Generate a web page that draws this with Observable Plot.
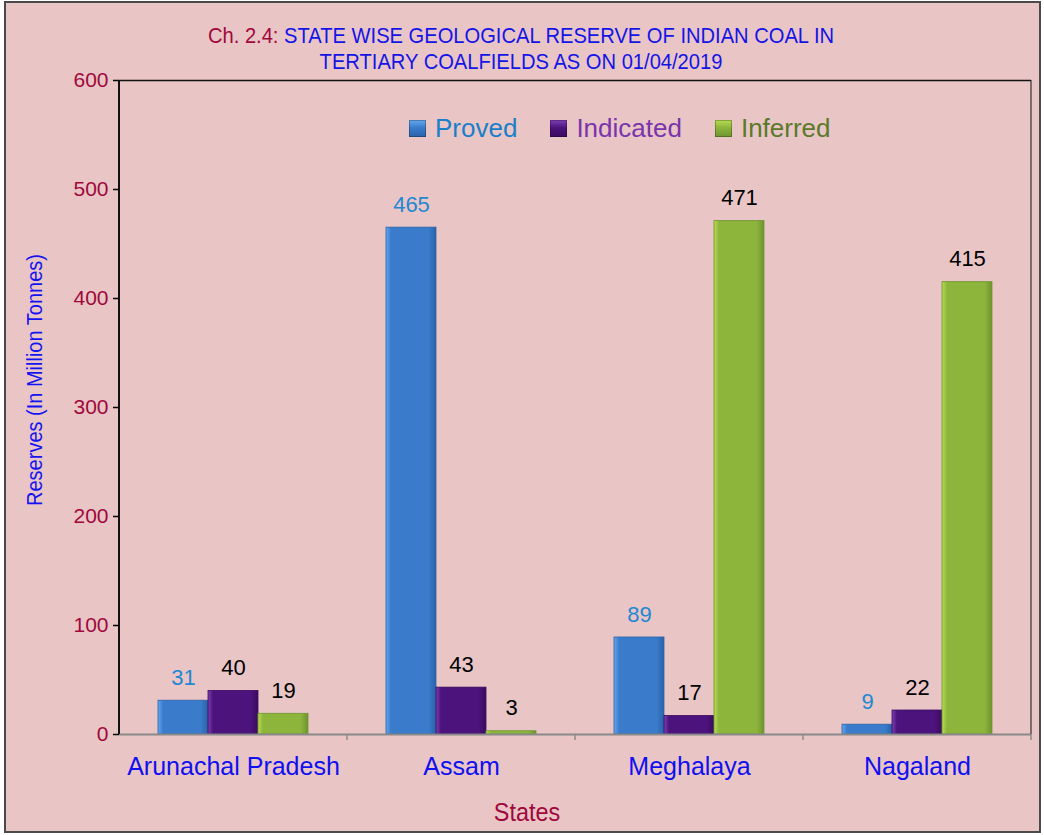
<!DOCTYPE html>
<html>
<head>
<meta charset="utf-8">
<script src="https://cdn.jsdelivr.net/npm/d3@7"></script>
<script src="https://cdn.jsdelivr.net/npm/@observablehq/plot@0.6"></script>
<style>
  html, body { margin: 0; padding: 0; background: #fff; }
  #wrap { position: relative; width: 1044px; height: 835px; overflow: hidden; font-family: "Liberation Sans", Arial, sans-serif; }
  #box { position: absolute; left: 4px; top: 1px; width: 1033px; height: 828px; border: 2px solid #4a4a4a; background: #e9c5c6; }
  #chart { position: absolute; left: 0; top: 0; }
  #title { position: absolute; left: 0; top: 23px; width: 1042px; text-align: center; font-size: 22px; line-height: 26px; color: #1414e6; transform: scaleX(0.915); transform-origin: 521px 0; }
  #title .pre { color: #a0083c; }
  #legend { position: absolute; left: 409px; top: 113px; display: flex; align-items: center; gap: 33px; font-size: 26px; }
  #legend .item { display: flex; align-items: center; gap: 9px; }
  #legend .sw { width: 17px; height: 17px; display: inline-block; box-shadow: inset 0 0 0 1px rgba(0,0,0,0.25); }
  #ylabel { position: absolute; left: 35px; top: 380px; transform: translate(-50%, -50%) rotate(-90deg) scaleX(0.93); white-space: nowrap; font-size: 21.5px; color: #1414f0; }
  #xlabel { position: absolute; left: 527px; top: 812px; transform: translate(-50%, -50%) scaleX(0.9); font-size: 26px; color: #a0083c; }
</style>
</head>
<body>
<div id="wrap">
  <div id="box"></div>
  <div id="chart"></div>
  <div id="title"><span class="pre">Ch. 2.4:</span> STATE WISE GEOLOGICAL RESERVE OF INDIAN COAL IN<br>TERTIARY COALFIELDS AS ON 01/04/2019</div>
  <div id="legend"></div>
  <div id="ylabel">Reserves (In Million Tonnes)</div>
  <div id="xlabel">States</div>
</div>
<script>
const states = ["Arunachal Pradesh", "Assam", "Meghalaya", "Nagaland"];
const seriesNames = ["Proved", "Indicated", "Inferred"];
const proved = [31, 465, 89, 9];
const indicated = [40, 43, 17, 22];
const inferred = [19, 3, 471, 415];
const yTicks = [0, 100, 200, 300, 400, 500, 600];

const seriesColors = {
  Proved:    {edge: "#66a8ee", mid: "#3a7ccb", dark: "#2a62a8", text: "#1a7fc8", label: "#1f88d2"},
  Indicated: {edge: "#7e40b4", mid: "#4c137c", dark: "#3a0c60", text: "#7a34ac", label: "#000000"},
  Inferred:  {edge: "#b8dc50", mid: "#8db53c", dark: "#6e9430", text: "#5a7a2a", label: "#000000"}
};

const valuesBySeries = {Proved: proved, Indicated: indicated, Inferred: inferred};
const data = [];
states.forEach((s, i) => {
  seriesNames.forEach(k => data.push({state: s, series: k, value: valuesBySeries[k][i]}));
});

const gradId = k => "grad-" + k;

const plot = Plot.plot({
  width: 1044,
  height: 835,
  marginTop: 80,
  marginLeft: 119,
  marginRight: 13,
  marginBottom: 101,
  style: {background: "transparent", overflow: "visible"},
  fx: {domain: states, padding: 0, label: null, tickSize: 0, tickPadding: 23},
  x: {domain: seriesNames, paddingInner: 0, paddingOuter: 0.74, axis: null},
  y: {domain: [0, 600], ticks: yTicks, tickSize: 6, tickPadding: 5, label: null},
  color: {domain: seriesNames, range: seriesNames.map(k => `url(#${gradId(k)})`)},
  marks: [
    Plot.ruleY([600], {stroke: "#111", strokeWidth: 1.5}),
    Plot.barY(data, {fx: "state", x: "series", y: "value", fill: "series", stroke: d => seriesColors[d.series].dark, strokeWidth: 0.8}),
    Plot.ruleY([0], {stroke: "#8a8a8a", strokeWidth: 2}),
    Plot.text(data, {fx: "state", x: "series", y: "value", text: d => String(d.value), dy: -23,
      fill: d => seriesColors[d.series].label, fontSize: 22,
      fontFamily: "'Liberation Sans', Arial, sans-serif"})
  ]
});

// gradients
const svg = d3.select(plot);
const defs = svg.insert("defs", ":first-child");
seriesNames.forEach(k => {
  const c = seriesColors[k];
  const g = defs.append("linearGradient").attr("id", gradId(k)).attr("x1", 0).attr("x2", 1).attr("y1", 0).attr("y2", 0);
  [[0, c.edge], [0.1, c.mid], [0.85, c.mid], [1, c.dark]].forEach(([o, col]) =>
    g.append("stop").attr("offset", o).attr("stop-color", col));
});

// axis styling
svg.selectAll("g[aria-label='y-axis tick label']")
  .attr("fill", "#a0083c")
  .attr("font-size", 21)
  .attr("font-family", "'Liberation Sans', Arial, sans-serif");
svg.selectAll("g[aria-label='y-axis tick']").attr("stroke", "#111").attr("stroke-width", 1.5);
svg.selectAll("g[aria-label='fx-axis tick label']")
  .attr("fill", "#1010f0")
  .attr("font-size", 25)
  .attr("font-family", "'Liberation Sans', Arial, sans-serif");

// plot-area frame lines and category separators from the scales
const fx = plot.scale("fx");
const y = plot.scale("y");
const y0 = y.apply(0), yTop = y.apply(600);
const xLeft = fx.apply(states[0]);
const xRight = fx.apply(states[states.length - 1]) + fx.bandwidth;
const lines = svg.append("g");
lines.append("line").attr("x1", xLeft).attr("x2", xLeft).attr("y1", yTop).attr("y2", y0).attr("stroke", "#111").attr("stroke-width", 2);
lines.append("line").attr("x1", xRight).attr("x2", xRight).attr("y1", yTop).attr("y2", y0).attr("stroke", "#333").attr("stroke-width", 1.2);
states.slice(1).forEach(s => {
  const xs = fx.apply(s);
  lines.append("line").attr("x1", xs).attr("x2", xs).attr("y1", y0).attr("y2", y0 + 6).attr("stroke", "#8a8a8a").attr("stroke-width", 1.5);
});
lines.append("line").attr("x1", xRight).attr("x2", xRight).attr("y1", y0).attr("y2", y0 + 6).attr("stroke", "#8a8a8a").attr("stroke-width", 1.5);

document.getElementById("chart").appendChild(plot);

// legend
const legend = d3.select("#legend");
seriesNames.forEach(k => {
  const c = seriesColors[k];
  const it = legend.append("div").attr("class", "item");
  it.append("span").attr("class", "sw")
    .style("background", `linear-gradient(180deg, ${c.edge} 0%, ${c.mid} 45%, ${c.dark} 100%)`);
  it.append("span").style("color", c.text).text(k);
});
</script>
</body>
</html>
